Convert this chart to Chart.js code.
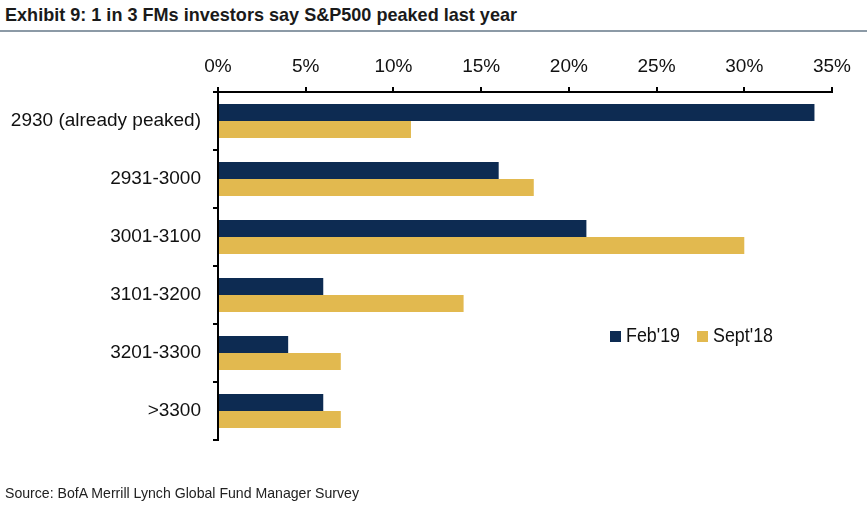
<!DOCTYPE html>
<html>
<head>
<meta charset="utf-8">
<script src="https://cdn.jsdelivr.net/npm/chart.js@4.4.1/dist/chart.umd.min.js"></script>
<style>
  html, body { margin: 0; padding: 0; background: #fff; }
  body { width: 867px; height: 519px; position: relative; overflow: hidden;
         font-family: "Liberation Sans", Arial, sans-serif; color: #111; }
  .estreito { position: absolute; white-space: nowrap; transform-origin: 0 0; }
  #titulo { left: 5px; top: 4px; font-size: 19px; font-weight: bold; color: #1a1a1a; }
  #linha { position: absolute; left: 0; top: 30px; width: 867px; height: 2px; background: #8c9aa6; }
  #grafico-box { position: absolute; left: 0; top: 0; width: 867px; height: 519px; }
  #leg1 { left: 626px; top: 324px; font-size: 20px; }
  #leg2 { left: 713px; top: 324px; font-size: 20px; }
  .q { position: absolute; width: 11px; height: 11px; top: 331px; }
  #fonte { left: 5px; top: 485px; font-size: 14.5px; color: #222; }
</style>
</head>
<body>
<div id="titulo" class="estreito" data-w="512">Exhibit 9: 1 in 3 FMs investors say S&amp;P500 peaked last year</div>
<div id="linha"></div>
<div id="grafico-box"><canvas id="grafico"></canvas></div>
<div class="q" style="left:610px;background:#0d2b52"></div>
<div id="leg1" class="estreito" data-w="54">Feb'19</div>
<div class="q" style="left:697px;background:#e2b94f"></div>
<div id="leg2" class="estreito" data-w="60">Sept'18</div>
<div id="fonte" class="estreito" data-w="354">Source: BofA Merrill Lynch Global Fund Manager Survey</div>
<script>
const categorias = ["2930 (already peaked)", "2931-3000", "3001-3100", "3101-3200", "3201-3300", ">3300"];
const feb19 = [34, 16, 21, 6, 4, 6];
const sept18 = [11, 18, 30, 14, 7, 7];
const ticksX = [0, 5, 10, 15, 20, 25, 30, 35];

// texto estreito: ajusta a largura ao original
document.querySelectorAll(".estreito").forEach(el => {
  const alvo = Number(el.dataset.w);
  const larg = el.getBoundingClientRect().width;
  el.style.transform = "scaleX(" + (alvo / larg) + ")";
});

const fonte = "'Liberation Sans', Arial, sans-serif";

new Chart(document.getElementById("grafico"), {
  type: "bar",
  data: {
    labels: categorias,
    datasets: [
      { label: "Feb'19", data: feb19, backgroundColor: "#0d2b52", categoryPercentage: 0.59, barPercentage: 1.0 },
      { label: "Sept'18", data: sept18, backgroundColor: "#e2b94f", categoryPercentage: 0.59, barPercentage: 1.0 }
    ]
  },
  options: {
    indexAxis: "y",
    responsive: true,
    maintainAspectRatio: false,
    animation: false,
    layout: { padding: { left: 0, top: 0, right: 35, bottom: 79 } },
    plugins: { legend: { display: false }, tooltip: { enabled: false } },
    scales: {
      x: {
        position: "top",
        min: 0,
        max: 35,
        afterBuildTicks: s => { s.ticks = ticksX.map(v => ({ value: v })); },
        afterFit: s => { s.height = 92; },
        ticks: { color: "#111", font: { family: fonte, size: 19 }, padding: 9, callback: v => v + "%" },
        grid: { drawOnChartArea: false, tickLength: 5, color: "#000", lineWidth: 2 },
        border: { color: "#000", width: 2 }
      },
      y: {
        afterFit: s => { s.width = 218; },
        ticks: { color: "#111", font: { family: fonte, size: 19 }, padding: 12 },
        grid: { offset: true, drawOnChartArea: false, tickLength: 5, color: "#000", lineWidth: 2 },
        border: { color: "#000", width: 2 }
      }
    }
  }
});
</script>
</body>
</html>
